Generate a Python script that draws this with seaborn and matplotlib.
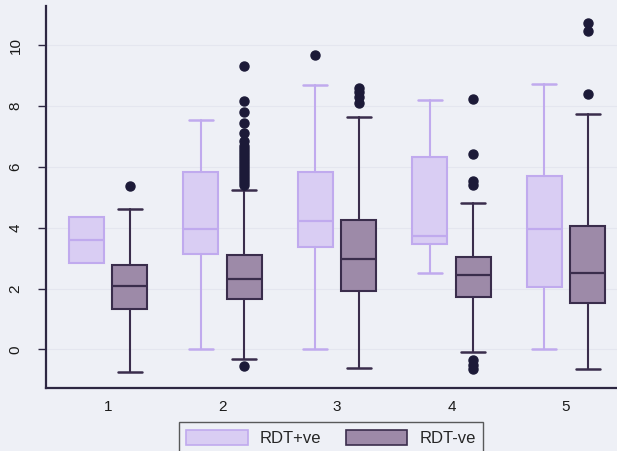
import numpy as np
import matplotlib
matplotlib.use("Agg")
import matplotlib.pyplot as plt
import seaborn as sns
from matplotlib.patches import Patch

# ---- data ----
groups = ["1", "2", "3", "4", "5"]
series = ["RDT+ve", "RDT-ve"]

pos_q1 = [2.85, 3.13, 3.38, 3.45, 2.04]
pos_med = [3.60, 3.95, 4.23, 3.74, 3.97]
pos_q3 = [4.36, 5.82, 5.84, 6.34, 5.71]
pos_wlo = [2.85, 0.00, 0.00, 2.52, 0.00]
pos_whi = [4.36, 7.54, 8.68, 8.20, 8.74]
pos_fliers = [[], [], [9.69], [], []]

neg_q1 = [1.32, 1.66, 1.93, 1.73, 1.52]
neg_med = [2.10, 2.32, 2.98, 2.44, 2.52]
neg_q3 = [2.76, 3.09, 4.24, 3.04, 4.07]
neg_wlo = [-0.74, -0.32, -0.62, -0.10, -0.64]
neg_whi = [4.62, 5.24, 7.63, 4.81, 7.73]
neg_fliers = [
    [5.37],
    [-0.55, 5.40, 5.50, 5.60, 5.70, 5.80, 5.90, 6.00, 6.10, 6.20, 6.30,
     6.40, 6.50, 6.60, 6.70, 6.85, 7.13, 7.43, 7.82, 8.17, 9.31],
    [8.10, 8.30, 8.45, 8.60],
    [-0.65, -0.50, -0.35, 5.42, 5.55, 6.41, 8.24],
    [8.39, 10.48, 10.72],
]

# ---- style ----
bg = "#eef0f6"
pos_fill, pos_edge = "#d9cdf3", "#c0aaee"
neg_fill, neg_edge = "#9d8aa8", "#3a2d4c"
flier_col = "#1c1a38"
axis_col = "#2d2742"

sns.set_style("white", rc={"axes.facecolor": bg, "figure.facecolor": bg,
                           "axes.edgecolor": axis_col})
plt.rcParams["font.family"] = ["Liberation Sans", "DejaVu Sans"]

fig = plt.figure(figsize=(6.17, 4.51), dpi=100)
ax = fig.add_axes([0.0746, 0.1397, 0.9254, 0.847])


def make_stats(q1, med, q3, wlo, whi, fl):
    return [dict(q1=a, med=b, q3=c, whislo=d, whishi=e, fliers=f, label=g)
            for a, b, c, d, e, f, g in zip(q1, med, q3, wlo, whi, fl, groups)]


base = np.arange(1, len(groups) + 1)
off = 0.19
bw = 0.305


def cap_widths(q1, q3, wlo, whi):
    # no visible cap where the whiskers have zero length
    return [0.0 if (a == c and b == d) else 0.21 for a, b, c, d in zip(q1, q3, wlo, whi)]


specs = [
    (make_stats(pos_q1, pos_med, pos_q3, pos_wlo, pos_whi, pos_fliers), -off,
     pos_fill, pos_edge, cap_widths(pos_q1, pos_q3, pos_wlo, pos_whi)),
    (make_stats(neg_q1, neg_med, neg_q3, neg_wlo, neg_whi, neg_fliers), off,
     neg_fill, neg_edge, cap_widths(neg_q1, neg_q3, neg_wlo, neg_whi)),
]
for stats, o, fill, edge, cws in specs:
    ax.bxp(stats, positions=base + o, widths=bw, capwidths=cws, patch_artist=True,
           showfliers=True, manage_ticks=False,
           boxprops=dict(facecolor=fill, edgecolor=edge, linewidth=1.5),
           medianprops=dict(color=edge, linewidth=1.6),
           whiskerprops=dict(color=edge, linewidth=1.5),
           capprops=dict(color=edge, linewidth=1.8),
           flierprops=dict(marker="o", markerfacecolor=flier_col,
                           markeredgecolor=flier_col, markersize=6.5))

ax.set_xlim(0.458, 5.445)
ax.set_ylim(-1.27, 11.29)
ax.set_xticks(base)
ax.set_xticklabels(groups, fontsize=11, color="#1a1a1a")
ax.set_yticks([0, 2, 4, 6, 8, 10])
ax.set_yticklabels(["0", "2", "4", "6", "8", "10"], fontsize=11,
                   rotation=90, va="center", color="#1a1a1a")
ax.tick_params(axis="x", length=0, pad=9)
ax.tick_params(axis="y", length=6, width=1.0, color=axis_col, pad=11, left=True)
ax.yaxis.grid(True, color="#e4e6ef", linewidth=0.8)
ax.set_axisbelow(True)
sns.despine(ax=ax, top=True, right=True)
for s in ["left", "bottom"]:
    ax.spines[s].set_linewidth(1.6)
    ax.spines[s].set_color(axis_col)

handles = [Patch(facecolor=pos_fill, edgecolor=pos_edge, linewidth=1.2, label=series[0]),
           Patch(facecolor=neg_fill, edgecolor=neg_edge, linewidth=1.2, label=series[1])]
leg = fig.legend(handles=handles, loc="upper left", bbox_to_anchor=(0.290, 0.0643),
                 borderaxespad=0.0, ncol=2, frameon=True, fancybox=False, fontsize=12,
                 handlelength=3.7, handleheight=1.05, columnspacing=1.45,
                 handletextpad=0.72, borderpad=0.45, edgecolor="#333333")
leg.get_frame().set_facecolor(bg)
leg.get_frame().set_linewidth(1.0)

fig.savefig("out.png", dpi=100, facecolor=bg)
